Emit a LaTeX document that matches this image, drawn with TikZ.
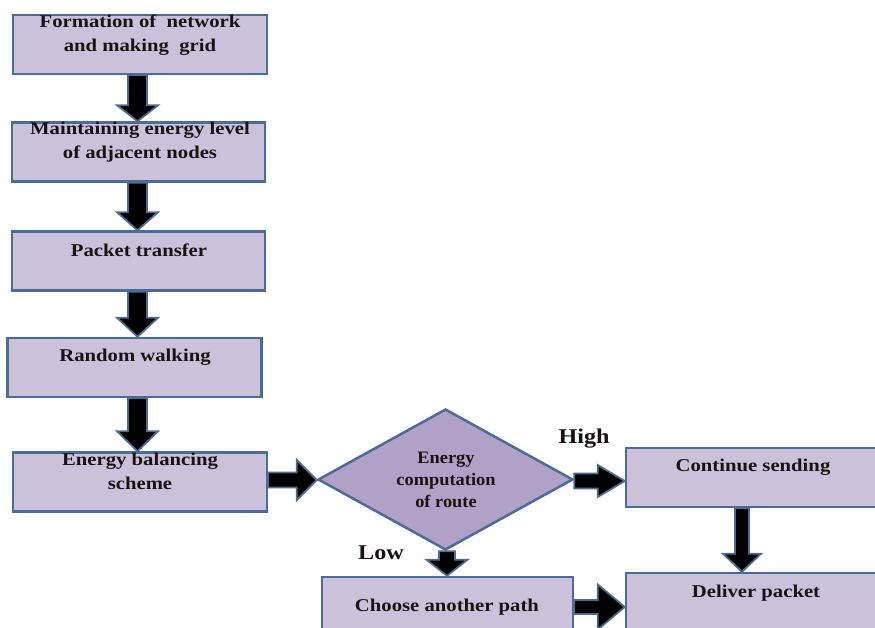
\documentclass[tikz,border=0pt]{standalone}
\usepackage{fontspec}
\setmainfont{Liberation Serif}
\newfontfamily\lblfont[FakeStretch=1.15]{Liberation Serif}
\newfontfamily\diafont[FakeStretch=1.05]{Liberation Serif}
\usetikzlibrary{calc,shapes.geometric}
\definecolor{boxfill}{HTML}{CCC1DA}
\definecolor{boxline}{HTML}{4A6C97}
\definecolor{diafill}{HTML}{B2A1C7}
\definecolor{arrline}{HTML}{4E6C90}
\definecolor{txtcol}{HTML}{1A1212}
\tikzset{
  box/.style={draw=boxline, line width=2.5pt, fill=boxfill, rectangle, inner sep=0pt},
  dia/.style={draw=boxline, line width=2.5pt, fill=diafill, diamond, inner sep=0pt},
  txt/.style={font=\lblfont\bfseries\fontsize{18}{24}\selectfont, align=center, text=txtcol, inner sep=0pt},
  smtxt/.style={font=\diafont\bfseries\fontsize{17.5}{22}\selectfont, align=center, text=txtcol, inner sep=0pt},
  bigtxt/.style={font=\lblfont\bfseries\fontsize{21}{24}\selectfont, text=txtcol, inner sep=0pt},
  barrow/.style={fill=black, draw=arrline, line width=1.8pt, line join=miter},
}
% vertical block arrow: #1 from, #2 to, #3 x, #4 shaft half width, #5 head half width, #6 head length
\newcommand\varr[6]{\filldraw[barrow] let \p1=(#1), \p2=(#2) in
  ({(#3-#4)*1pt},\y1) -- ({(#3+#4)*1pt},\y1) -- ({(#3+#4)*1pt},{\y2+#6pt})
  -- ({(#3+#5)*1pt},{\y2+#6pt}) -- ({#3*1pt},\y2) -- ({(#3-#5)*1pt},{\y2+#6pt})
  -- ({(#3-#4)*1pt},{\y2+#6pt}) -- cycle;}
% horizontal block arrow: #1 from, #2 to, #3 y (pixel, downwards), #4 shaft half, #5 head half, #6 head length
\newcommand\harr[6]{\filldraw[barrow] let \p1=(#1), \p2=(#2) in
  (\x1,{(-#3+#4)*1pt}) -- (\x1,{(-#3-#4)*1pt}) -- ({\x2-#6pt},{(-#3-#4)*1pt})
  -- ({\x2-#6pt},{(-#3-#5)*1pt}) -- (\x2,{-#3*1pt}) -- ({\x2-#6pt},{(-#3+#5)*1pt})
  -- ({\x2-#6pt},{(-#3+#4)*1pt}) -- cycle;}
\begin{document}
\begin{tikzpicture}[x=1pt,y=-1pt]
\useasboundingbox (0,0) rectangle (875,628);
\clip (0,0) rectangle (875,628);
% boxes
\node[box, minimum width=254pt, minimum height=59pt] (b1) at (140,44.5) {};
\node[box, minimum width=253pt, minimum height=59pt] (b2) at (138.5,152) {};
\node[box, minimum width=253pt, minimum height=59pt] (b3) at (138.5,261) {};
\node[box, minimum width=254pt, minimum height=59pt] (b4) at (134.5,367.5) {};
\node[box, minimum width=254pt, minimum height=59pt] (b5) at (140,482) {};
\node[dia, minimum width=255pt, minimum height=141pt] (d) at (445.5,479.5) {};
\node[box, minimum width=280pt, minimum height=59pt] (c) at (766,477.5) {};
\node[box, minimum width=280pt, minimum height=90pt] (dp) at (766,618) {};
\node[box, minimum width=251pt, minimum height=90pt] (ch) at (447.5,622) {};
% texts
\node[txt] (t1) at (140,35) {Formation of\ \ network\\and making\ \ grid};
\node[txt] (t2) at (140,142.5) {Maintaining energy level\\of adjacent nodes};
\node[txt] (t3) at (139,250) {Packet transfer};
\node[txt] (t4) at (135,357) {Random walking};
\node[txt] (t5) at (140,471.5) {Energy balancing\\scheme};
\node[smtxt] (td) at (446,480) {Energy\\computation\\of route};
\node[txt] (tc) at (753,467) {Continue sending};
\node[txt] (tdp) at (756,593) {Deliver packet};
\node[txt] (tch) at (447,607) {Choose another path};
\node[bigtxt] (hi) at (584,439) {High};
\node[bigtxt] (lo) at (381,553) {Low};
% arrows
\varr{b1.south}{b2.north}{137.5}{9.5}{20.5}{16}
\varr{b2.south}{b3.north}{137.5}{9.5}{20.5}{18}
\varr{b3.south}{b4.north}{137.5}{9.5}{20.5}{19}
\varr{b4.south}{b5.north}{137.5}{9.5}{20.5}{20}
\harr{b5.east}{d.west}{480}{7.5}{20}{20}
\harr{d.east}{c.west}{481}{7.5}{16}{27}
\varr{c.south}{dp.north}{742}{7}{19}{18}
\varr{d.south}{ch.north}{447}{8}{20.5}{16}
\harr{ch.east}{dp.west}{607}{7}{22.5}{27}
\end{tikzpicture}
\end{document}
